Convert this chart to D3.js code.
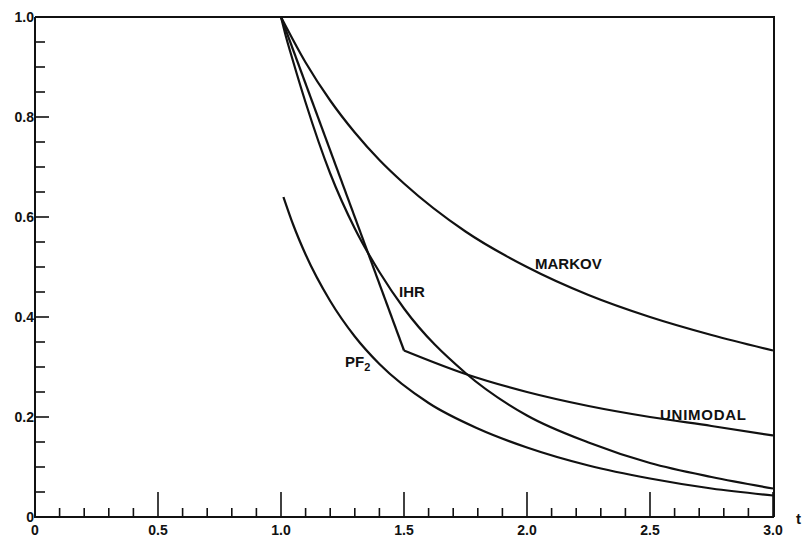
<!DOCTYPE html>
<html>
<head>
<meta charset="utf-8">
<script src="https://cdn.jsdelivr.net/npm/d3@7"></script>
<style>
  body { margin: 0; background: #fff; }
  svg { display: block; }
  text { font-family: "Liberation Sans", Arial, sans-serif; font-weight: bold; fill: #111; }
</style>
</head>
<body>
<div id="chart"></div>
<script>
// bounds on survival probability
var markovT = [1.0, 1.1, 1.2, 1.3, 1.4, 1.5, 1.75, 2.0, 2.25, 2.5, 2.75, 3.0];
var markovV = [1.0, 0.909, 0.833, 0.769, 0.714, 0.667, 0.571, 0.5, 0.444, 0.4, 0.364, 0.333];

var ihrT = [1.0, 1.02, 1.05, 1.1, 1.2, 1.3, 1.4, 1.5, 1.75, 2.0, 2.25, 2.5, 2.75, 3.0];
var ihrV = [1.0, 0.961, 0.91, 0.829, 0.687, 0.577, 0.49, 0.417, 0.288, 0.203, 0.149, 0.108, 0.08, 0.057];

var unimodalT = [1.0, 1.5, 1.75, 2.0, 2.25, 2.5, 2.75, 3.0];
var unimodalV = [1.0, 0.333, 0.286, 0.25, 0.222, 0.2, 0.182, 0.163];

var pf2T = [1.01, 1.05, 1.1, 1.2, 1.3, 1.4, 1.6, 1.8, 2.0, 2.25, 2.5, 2.75, 3.0];
var pf2V = [0.64, 0.584, 0.525, 0.432, 0.361, 0.306, 0.228, 0.177, 0.139, 0.103, 0.077, 0.057, 0.043];

var xTickLabels = ["0", "0.5", "1.0", "1.5", "2.0", "2.5", "3.0"];
var yTickLabels = ["0", "0.2", "0.4", "0.6", "0.8", "1.0"];

var W = 803, H = 537;
var svg = d3.select("#chart").append("svg").attr("width", W).attr("height", H);

var x = d3.scaleLinear().domain([0, 3]).range([35, 773]);
var y = d3.scaleLinear().domain([0, 1]).range([517, 17]);

var ink = "#111";

// frame: top and right borders
svg.append("path")
    .attr("d", `M${x(0)},${y(1)} H${x(3) + 1} V${y(0)}`)
    .attr("fill", "none").attr("stroke", ink).attr("stroke-width", 2);

// bottom axis, ticks pointing up
var xMinor = d3.range(1, 31).map(d => d / 10);
var xAx = svg.append("g");
xAx.append("line")
    .attr("x1", x(0)).attr("x2", x(3) + 1).attr("y1", y(0)).attr("y2", y(0))
    .attr("stroke", ink).attr("stroke-width", 2);
xAx.selectAll("line.tk").data(xMinor).enter().append("line")
    .attr("class", "tk")
    .attr("x1", d => x(d)).attr("x2", d => x(d))
    .attr("y1", y(0))
    .attr("y2", (d, i) => (i + 1) % 5 == 0 ? y(0) - 25 : y(0) - 9)
    .attr("stroke", ink).attr("stroke-width", 1.6);
xAx.selectAll("text").data(xTickLabels).enter().append("text")
    .attr("x", d => x(+d)).attr("y", 535)
    .attr("text-anchor", "middle").attr("font-size", 14)
    .text(d => d);
svg.append("text").attr("x", 796).attr("y", 524).attr("font-size", 15).text("t");

// left axis, ticks pointing right
var yMinor = d3.range(1, 20).map(d => d / 20);
var yAx = svg.append("g");
yAx.append("line")
    .attr("x1", x(0)).attr("x2", x(0)).attr("y1", y(0) + 1).attr("y2", y(1))
    .attr("stroke", ink).attr("stroke-width", 2);
yAx.selectAll("line.tk").data(yMinor).enter().append("line")
    .attr("class", "tk")
    .attr("x1", x(0))
    .attr("x2", (d, i) => (i + 1) % 4 == 0 ? x(0) + 14 : x(0) + 10)
    .attr("y1", d => y(d)).attr("y2", d => y(d))
    .attr("stroke", ink).attr("stroke-width", 1.6);
yAx.selectAll("text").data(yTickLabels).enter().append("text")
    .attr("x", 34).attr("y", d => y(+d) + 5)
    .attr("text-anchor", "end").attr("font-size", 14)
    .text(d => d);

// curves
function pts(ts, vs) { return ts.map((t, i) => [t, vs[i]]); }
var smooth = d3.line().x(d => x(d[0])).y(d => y(d[1])).curve(d3.curveMonotoneX);
var straight = d3.line().x(d => x(d[0])).y(d => y(d[1]));

var curves = svg.append("g").attr("fill", "none").attr("stroke", ink).attr("stroke-width", 2.2);
curves.append("path").attr("d", smooth(pts(markovT, markovV)));
curves.append("path").attr("d", smooth(pts(ihrT, ihrV)));
curves.append("path").attr("d", smooth(pts(pf2T, pf2V)));
var uni = pts(unimodalT, unimodalV);
curves.append("path").attr("d", straight(uni.slice(0, 2)));
curves.append("path").attr("d", smooth(uni.slice(1)));

// curve labels
svg.append("text").attr("x", 535).attr("y", 269).attr("font-size", 15).text("MARKOV");
svg.append("text").attr("x", 660).attr("y", 420).attr("font-size", 15)
    .attr("textLength", 86).attr("lengthAdjust", "spacing").text("UNIMODAL");
svg.append("text").attr("x", 399).attr("y", 297).attr("font-size", 15).text("IHR");
var pf = svg.append("text").attr("x", 345).attr("y", 367).attr("font-size", 15);
pf.append("tspan").text("PF");
pf.append("tspan").attr("dy", 4).attr("font-size", 11).text("2");
</script>
</body>
</html>
